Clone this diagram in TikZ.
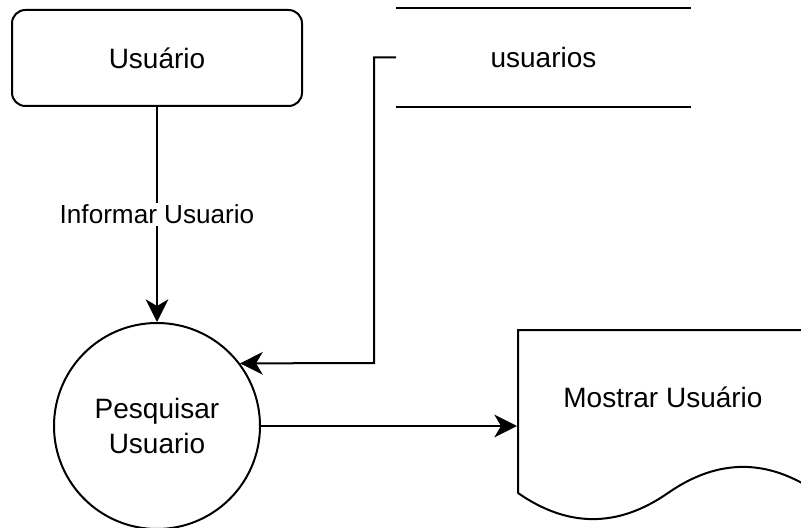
\documentclass[tikz,border=0pt]{standalone}
\usepackage{fontspec}
\setmainfont{Liberation Sans}
\usetikzlibrary{shapes,arrows.meta}
\tikzstyle{entity} = [draw, rectangle, rounded corners=10pt, minimum width=217.5pt, minimum height=72pt]
\tikzstyle{process} = [draw, circle, minimum size=154.5pt, inner sep=0pt, align=center]
\tikzstyle{store} = [draw=none, rectangle, minimum width=219.75pt, minimum height=72.75pt]
\tikzstyle{docbox} = [draw=none, rectangle, minimum width=225pt, minimum height=144.75pt]
\tikzstyle{invis} = [draw=none]
\tikzstyle{flowlabel} = [fill=white, inner sep=1.5pt, font=\fontsize{19.6}{24}\selectfont]

\begin{document}
\begin{tikzpicture}[->,>={Stealth[length=17pt,width=17pt,inset=5pt]},x=0.75pt,y=-0.75pt,line width=1.5pt,font=\fontsize{21}{26}\selectfont]

\useasboundingbox (0,0) rectangle (801,528);

\node[entity] (usuario) at (157,58) {Usuário};
\node[store] (usuarios) at (543.5,57.5) {usuarios};
\node[process] (pesquisar) at (157,426) {Pesquisar\\Usuario};
\node[docbox] (mostrar) at (668,426) {};
\node[invis] (mostrarText) at (663,397) {Mostrar Usuário};
\coordinate (bend) at (374,363);

% data store
\draw[-] (usuarios.north west) -- (usuarios.north east);
\draw[-] (usuarios.south west) -- (usuarios.south east);

% document
\draw[-] (518,493) -- (518,330) -- (818,330) -- (818,493)
  .. controls (768,458.2) and (718,458.2) .. (668,493)
  .. controls (618,527.8) and (568,527.8) .. (518,493);

\path
(usuario) edge node[flowlabel] {Informar Usuario} (pesquisar)
(pesquisar) edge (mostrar);

\draw (usuarios.west) -| (bend) -- (pesquisar.37.7);

\end{tikzpicture}
\end{document}
